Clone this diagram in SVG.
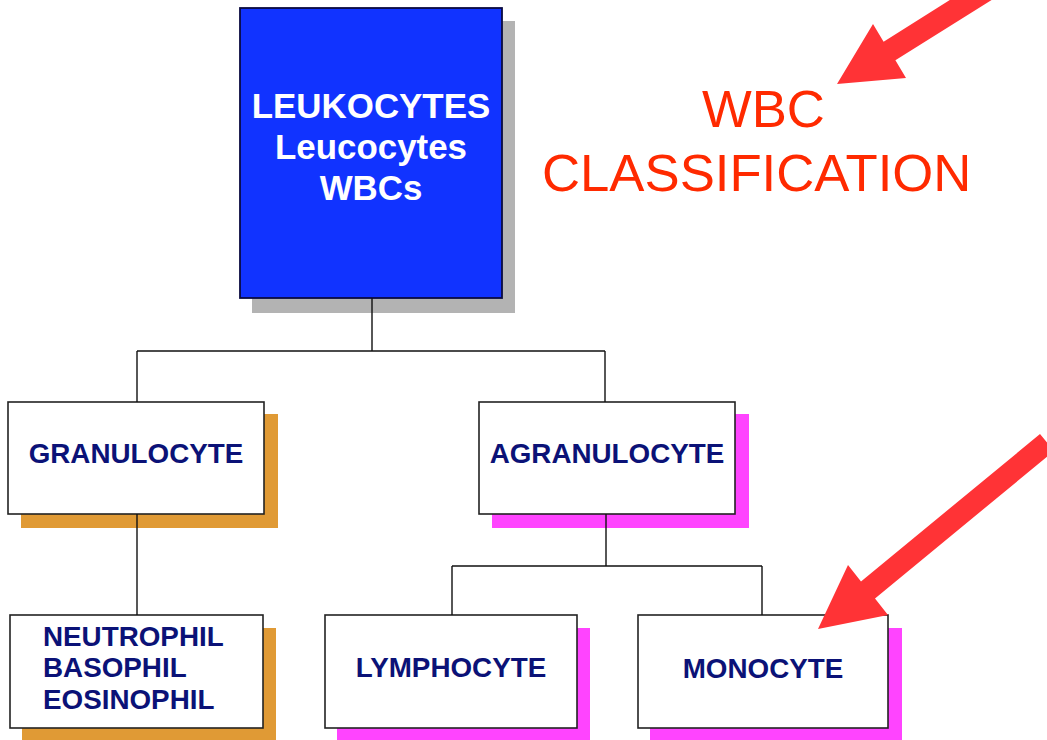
<svg xmlns="http://www.w3.org/2000/svg" width="1047" height="740" viewBox="0 0 1047 740">
<style>
.box{fill:#fff;stroke:#222;stroke-width:1.6}
.lbl{font-family:"Liberation Sans",Arial,sans-serif;font-weight:bold;font-size:27.8px;fill:#0b1277}
.top{font-family:"Liberation Sans",Arial,sans-serif;font-weight:bold;font-size:34.9px;fill:#fff;text-anchor:middle}
.red{font-family:"Liberation Sans",Arial,sans-serif;font-size:52.7px;fill:#ff2a00}
.sh-gray{fill:#b3b3b3}
.sh-orange{fill:#e09a35}
.sh-pink{fill:#ff44ff}
.conn{fill:none;stroke:#111;stroke-width:1.4}
.arrow{fill:#ff3336}
</style>
<rect width="1047" height="740" fill="#fff"/>
<g id="leukocytes">
<rect class="sh-gray" x="252" y="21" width="263" height="292"/>
<rect x="240" y="8" width="262" height="290" fill="#1133ff" stroke="#0a0a40" stroke-width="1.8"/>
<text class="top" x="371" y="118">LEUKOCYTES</text>
<text class="top" x="371" y="159">Leucocytes</text>
<text class="top" x="371" y="200">WBCs</text>
</g>
<g id="granulocyte">
<rect class="sh-orange" x="21" y="414" width="257" height="114"/>
<rect class="box" x="8" y="402" width="256" height="112"/>
<text class="lbl" x="136" y="463" text-anchor="middle">GRANULOCYTE</text>
</g>
<g id="agranulocyte">
<rect class="sh-pink" x="492" y="414" width="257" height="114"/>
<rect class="box" x="479" y="402" width="256" height="112"/>
<text class="lbl" x="607" y="463" text-anchor="middle">AGRANULOCYTE</text>
</g>
<g id="granulocyte-types">
<rect class="sh-orange" x="22" y="628" width="254" height="115"/>
<rect class="box" x="10" y="615" width="253" height="113"/>
<text class="lbl" x="43" y="646">NEUTROPHIL</text>
<text class="lbl" x="43" y="677">BASOPHIL</text>
<text class="lbl" x="43" y="709">EOSINOPHIL</text>
</g>
<g id="lymphocyte">
<rect class="sh-pink" x="337" y="628" width="253" height="115"/>
<rect class="box" x="325" y="615" width="252" height="113"/>
<text class="lbl" x="451" y="677" text-anchor="middle">LYMPHOCYTE</text>
</g>
<g id="monocyte">
<rect class="sh-pink" x="650" y="628" width="252" height="115"/>
<rect class="box" x="638" y="615" width="250" height="113"/>
<text class="lbl" x="763" y="678" text-anchor="middle">MONOCYTE</text>
</g>
<g id="connectors">
<path class="conn" d="M372 298V351M137 351H605M137 351V402M605 351V402"/>
<path class="conn" d="M137 514V615"/>
<path class="conn" d="M606 514V566M452 566H762M452 566V615M762 566V615"/>
</g>
<g id="title">
<text class="red" x="702" y="127">WBC</text>
<text class="red" x="542" y="191">CLASSIFICATION</text>
</g>
<g id="arrows">
<polygon class="arrow" points="837,84 873,24 883.6,41.7 1053,-65 1065,-46 895.4,60.3 906,78"/>
<polygon class="arrow" points="818,629 848,565 861,581.5 1040,434 1054,451 875,598.5 888,615"/>
</g>
</svg>
